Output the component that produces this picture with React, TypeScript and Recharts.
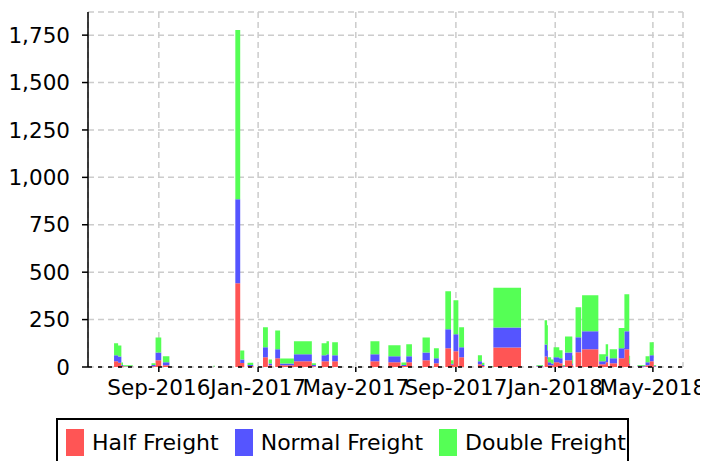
import React from "react";
import { AreaChart, Area, XAxis, YAxis, CartesianGrid } from "recharts";

// each freight period: start date, end date and the three stacked values
const periodStart = [
  "2016-07-08", "2016-07-13", "2016-07-17", "2016-07-19", "2016-08-23", "2016-08-28",
  "2016-09-06", "2016-11-07", "2016-12-04", "2016-12-10", "2016-12-19", "2017-01-07",
  "2017-01-14", "2017-01-22", "2017-01-28", "2017-02-14", "2017-03-08", "2017-03-20",
  "2017-03-26", "2017-04-02", "2017-04-22", "2017-05-19", "2017-06-10", "2017-06-26",
  "2017-07-02", "2017-07-22", "2017-08-05", "2017-08-19", "2017-08-26", "2017-08-29",
  "2017-09-05", "2017-09-28", "2017-10-03", "2017-10-14", "2017-10-17", "2017-12-09",
  "2017-12-19", "2017-12-22", "2017-12-23", "2017-12-27", "2017-12-30", "2018-01-06",
  "2018-01-10", "2018-01-13", "2018-01-22", "2018-01-26", "2018-02-03", "2018-02-24",
  "2018-03-04", "2018-03-09", "2018-03-20", "2018-03-27", "2018-04-02", "2018-04-12",
  "2018-04-22", "2018-04-27", "2018-05-02",
];
const periodEnd = [
  "2016-07-13", "2016-07-17", "2016-07-19", "2016-07-31", "2016-08-28", "2016-09-04",
  "2016-09-14", "2016-11-09", "2016-12-10", "2016-12-15", "2016-12-26", "2017-01-13",
  "2017-01-18", "2017-01-28", "2017-02-14", "2017-03-08", "2017-03-13", "2017-03-26",
  "2017-03-29", "2017-04-09", "2017-04-24", "2017-05-30", "2017-06-25", "2017-07-02",
  "2017-07-09", "2017-07-31", "2017-08-11", "2017-08-26", "2017-08-29", "2017-09-04",
  "2017-09-11", "2017-10-03", "2017-10-06", "2017-10-17", "2017-11-20", "2017-12-17",
  "2017-12-22", "2017-12-23", "2017-12-27", "2017-12-30", "2018-01-06", "2018-01-10",
  "2018-01-13", "2018-01-22", "2018-01-23", "2018-02-02", "2018-02-23", "2018-03-04",
  "2018-03-07", "2018-03-18", "2018-03-27", "2018-04-02", "2018-04-03", "2018-04-22",
  "2018-04-27", "2018-05-02", "2018-05-05",
];
const halfFreight = [
  30, 23, 5, 3, 4, 35, 9, 1, 442, 21, 5, 51, 9, 46, 9, 30, 4, 30, 30, 30, 1, 30, 25, 5, 25,
  35, 20, 99, 12, 83, 51, 14, 5, 1, 103, 3, 56, 41, 9, 9, 25, 20, 3, 35, 9, 78, 93, 14, 25,
  20, 46, 93, 9, 3, 9, 30, 3,
];
const normalFreight = [
  32, 33, 5, 1, 6, 42, 16, 1, 443, 19, 5, 53, 10, 47, 10, 37, 6, 32, 37, 32, 1, 37, 32, 5, 32,
  42, 26, 100, 5, 90, 53, 16, 5, 1, 105, 3, 63, 47, 16, 10, 26, 26, 3, 42, 10, 79, 95, 16, 32,
  26, 53, 95, 10, 3, 16, 32, 3,
];
const doubleFreight = [
  63, 58, 14, 5, 10, 79, 32, 4, 892, 47, 12, 106, 21, 100, 26, 69, 10, 63, 69, 69, 3, 69, 58,
  14, 63, 79, 53, 200, 18, 179, 106, 32, 12, 3, 210, 4, 127, 132, 26, 21, 53, 42, 5, 84, 42,
  158, 190, 37, 63, 47, 106, 195, 40, 4, 32, 69, 5,
];

const xDomain = ["2016-06-06", "2018-06-07"];
const xTicks = ["2016-09-01", "2017-01-01", "2017-05-01", "2017-09-01", "2018-01-01", "2018-05-01"];
const yTicks = [0, 250, 500, 750, 1000, 1250, 1500, 1750];
const yMax = 1872;

const MONTHS = ["Jan", "Feb", "Mar", "Apr", "May", "Jun", "Jul", "Aug", "Sep", "Oct", "Nov", "Dec"];
const FONT = "DejaVu Sans";

const toTime = (s: string) => Date.parse(s + "T00:00:00Z");

// step areas: value at the period start, back to zero at its end
const chartData: { t: number; half: number; normal: number; double: number }[] = [];
periodStart.forEach((s, i) => {
  chartData.push({ t: toTime(s), half: halfFreight[i], normal: normalFreight[i], double: doubleFreight[i] });
  chartData.push({ t: toTime(periodEnd[i]), half: 0, normal: 0, double: 0 });
});

const SERIES = [
  { key: "half", name: "Half Freight", color: "#ff5555" },
  { key: "normal", name: "Normal Freight", color: "#5555ff" },
  { key: "double", name: "Double Freight", color: "#55ff55" },
];

const formatMonth = (t: number) => {
  const d = new Date(t);
  return `${MONTHS[d.getUTCMonth()]}-${d.getUTCFullYear()}`;
};

export default function App() {
  return (
    <div style={{ position: "relative", width: 700, height: 445 }}>
      <AreaChart
        width={700}
        height={445}
        data={chartData}
        margin={{ top: 4, right: 25, bottom: 46, left: 0 }}
      >
        <CartesianGrid stroke="#cccccc" strokeWidth={1.5} strokeDasharray="6 4" />
        <XAxis
          type="number"
          dataKey="t"
          domain={[toTime(xDomain[0]), toTime(xDomain[1])]}
          ticks={xTicks.map(toTime)}
          interval={0}
          tickFormatter={formatMonth}
          tick={{ fill: "#000", fontSize: 21.5, fontFamily: FONT }}
          tickSize={5}
          tickMargin={8}
          height={40}
          allowDataOverflow
          axisLine={{ stroke: "#000", strokeWidth: 1.5, strokeDasharray: "4 6" }}
          tickLine={{ stroke: "#000", strokeWidth: 1.5 }}
        />
        <YAxis
          domain={[0, yMax]}
          ticks={yTicks}
          interval={0}
          width={80}
          tickSize={6}
          tickMargin={12}
          tickFormatter={(v: number) => v.toLocaleString("en-US")}
          tick={{ fill: "#000", fontSize: 21.5, fontFamily: FONT }}
          axisLine={{ stroke: "#000", strokeWidth: 1.5 }}
          tickLine={{ stroke: "#000", strokeWidth: 1.5 }}
        />
        {SERIES.map((s) => (
          <Area
            key={s.key}
            type="stepAfter"
            dataKey={s.key}
            name={s.name}
            stackId="freight"
            stroke="none"
            fill={s.color}
            fillOpacity={1}
            dot={false}
            activeDot={false}
            isAnimationActive={false}
          />
        ))}
      </AreaChart>
      <div
        style={{
          position: "fixed",
          left: 56,
          top: 418,
          width: 573,
          height: 60,
          boxSizing: "border-box",
          border: "2px solid #000",
          display: "flex",
          alignItems: "flex-start",
          paddingTop: 9,
          paddingLeft: 8,
          fontFamily: FONT,
          fontSize: 22,
          color: "#000",
          background: "#fff",
          whiteSpace: "nowrap",
          overflow: "hidden",
        }}
      >
        {SERIES.map((s, i) => (
          <span
            key={s.key}
            style={{
              display: "inline-flex",
              alignItems: "center",
              flexShrink: 0,
              marginRight: i < SERIES.length - 1 ? 16 : 0,
            }}
          >
            <span style={{ width: 18, height: 27, background: s.color, marginRight: 8, flexShrink: 0 }} />
            <span>{s.name}</span>
          </span>
        ))}
      </div>
    </div>
  );
}
